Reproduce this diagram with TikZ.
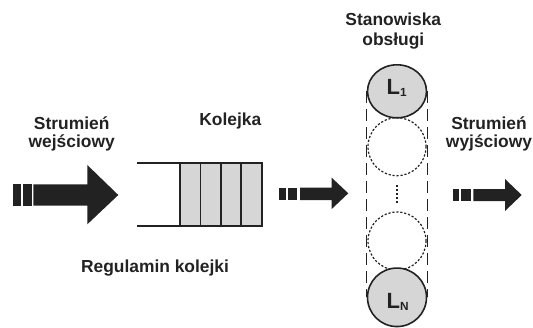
\documentclass[tikz,border=0pt]{standalone}
\usepackage{fontspec}
\setmainfont{Liberation Sans}
\usetikzlibrary{shapes.geometric}
\definecolor{ink}{HTML}{222222}
\definecolor{cellgray}{HTML}{D6D6D6}
\tikzset{
  lbl/.style={font=\fontsize{17.4}{18.7}\selectfont\bfseries, text=ink, inner sep=0pt, align=center, anchor=base},
  arr/.style={fill=ink, draw=none},
  srv/.style={ellipse, draw=ink, line width=1.6pt, fill=cellgray, inner sep=0pt, minimum width=59pt},
  ghost/.style={circle, draw=ink, line width=1.2pt, dash pattern=on 2.2pt off 1.8pt, inner sep=0pt, minimum size=58pt},
  lname/.style={font=\fontsize{22}{22}\selectfont\bfseries, text=ink, inner sep=0pt, anchor=base},
}
\newcommand{\subx}[1]{\raisebox{-2.4pt}{\fontsize{11.8}{12}\selectfont #1}}
\begin{document}
\begin{tikzpicture}[x=1pt,y=-1pt]
\useasboundingbox (0,0) rectangle (533,327);
% texts (base anchor = baseline of the last line)
\node[lbl] (win) at (71.7,147.7) {Strumień\\wejściowy};
\node[lbl] (kol) at (230.3,125.7) {Kolejka};
\node[lbl] (sta) at (393.3,45) {Stanowiska\\[1.3pt]obsługi};
\node[lbl] (wout) at (489,147.7) {Strumień\\wyjściowy};
\node[lbl] (reg) at (155,272) {Regulamin kolejki};
% big input arrow
\fill[arr] (12.7,184.3) rectangle (20.7,205.7);
\fill[arr] (22.7,184.3) rectangle (31.7,205.7);
\fill[arr] (33.3,184.3) -- (87.3,184.3) -- (87.3,165) -- (118.3,195) -- (87.3,224.3) -- (87.3,205.7) -- (33.3,205.7) -- cycle;
% queue
\fill[cellgray] (180,162.7) rectangle (261.7,226);
\draw[ink, line width=1.8pt] (136.7,162.7) -- (261.7,162.7) -- (261.7,226) -- (136.7,226);
\foreach \xx in {180,200.4,220.8,241.2}
  \draw[ink, line width=1.5pt] (\xx,162.7) -- (\xx,226);
% middle arrow
\fill[arr] (279.3,187.7) rectangle (286,200);
\fill[arr] (288.3,187.7) rectangle (297.3,200);
\fill[arr] (300,187.7) -- (331.7,187.7) -- (331.7,177.7) -- (348.3,193.3) -- (331.7,209) -- (331.7,200) -- (300,200) -- cycle;
% servers
\node[ghost] (d1) at (397,146.7) {};
\node[ghost] (d2) at (397,241) {};
\node[srv, minimum height=53pt] (L1) at (397,91.3) {};
\node[srv, minimum height=58.5pt] (LN) at (397,297.3) {};
\draw[ink, line width=1.2pt, dash pattern=on 12pt off 6pt] (L1.west) -- (LN.west);
\draw[ink, line width=1.2pt, dash pattern=on 12pt off 6pt] (L1.east) -- (LN.east);
\coordinate (dt) at (397,185);
\coordinate (db) at (397,203);
\draw[ink, line width=1.2pt, dash pattern=on 2.2pt off 1.8pt] (dt) -- (db);
\node[lname] (t1) at (386.5,94.3) [anchor=base west] {L\subx{1}};
\node[lname] (tN) at (386.5,308.3) [anchor=base west] {L\subx{N}};
% output arrow
\fill[arr] (453.3,189) rectangle (459.3,201);
\fill[arr] (460.7,189) rectangle (470.7,201);
\fill[arr] (473.3,189) -- (505,189) -- (505,179) -- (521.7,195) -- (505,211) -- (505,201) -- (473.3,201) -- cycle;
\end{tikzpicture}
\end{document}
